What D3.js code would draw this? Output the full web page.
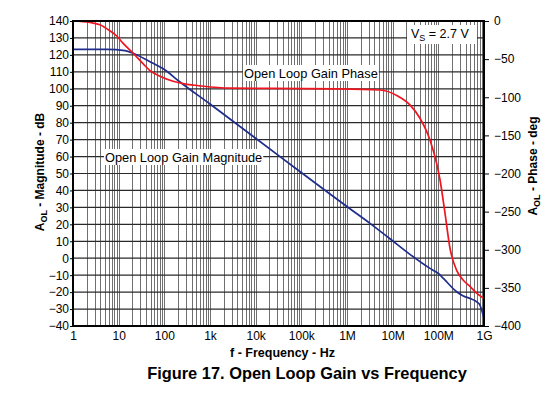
<!DOCTYPE html>
<html>
<head>
<meta charset="utf-8">
<script src="https://cdn.jsdelivr.net/npm/d3@7"></script>
<style>
  body { margin: 0; background: #fff; }
  svg { font-family: Arial, "Liberation Sans", sans-serif; }
</style>
</head>
<body>
<svg id="chart" width="550" height="396"></svg>
<script>
// Open loop gain / phase vs frequency

const freqTicks = [1, 10, 100, 1e3, 1e4, 1e5, 1e6, 1e7, 1e8, 1e9];
const freqLabels = ["1", "10", "100", "1k", "10k", "100k", "1M", "10M", "100M", "1G"];
const magTicks = [140, 130, 120, 110, 100, 90, 80, 70, 60, 50, 40, 30, 20, 10, 0, -10, -20, -30, -40];
const phaseTicks = [0, -50, -100, -150, -200, -250, -300, -350, -400];

// magnitude (dB)
const magFreq = [1, 5.5, 13.8, 20.6, 48.5, 98, 220, 1000, 34100, 424000, 1.16e6, 3.18e6,
  8.73e6, 2.39e7, 6.56e7, 1e8, 1.29e8, 2.51e8, 3.52e8, 4.9e8, 6.9e8, 8.1e8, 1e9];
const magDb = [123.3, 123.3, 122.5, 121, 116, 111.5, 104, 91, 60, 37.9, 29.2, 20.6,
  11.5, 2.3, -6, -9, -11.9, -19.8, -22.3, -23.7, -25.7, -27.5, -35.5];

// phase (deg)
const phaseFreq = [1, 2.36, 3.9, 6.46, 9.18, 12.4, 20.6, 34.1, 48.5, 80.4, 155, 313, 604, 2740,
  594000, 5.27e6, 1.26e7, 2.39e7, 3.96e7, 6.56e7, 9.2e7, 1.09e8, 1.4e8, 1.8e8,
  2.52e8, 3.52e8, 4.93e8, 6.9e8, 1e9];
const phaseDeg = [0, -2, -5, -13, -20, -29, -42, -56, -65, -72.5, -79, -83, -85, -88,
  -89, -90.5, -98, -110, -127.6, -156, -187, -208.5, -252, -298,
  -327, -340, -348, -357, -364];

const pLeft = 73, pRight = 484, pTop = 21, pBottom = 326;

const x = d3.scaleLog().domain([1, 1e9]).range([pLeft, pRight]);
const yMag = d3.scaleLinear().domain([-40, 140]).range([pBottom, pTop]);
const yPh = d3.scaleLinear().domain([-400, 0]).range([pBottom, pTop]);

const svg = d3.select("#chart");
svg.append("rect").attr("width", 550).attr("height", 396).attr("fill", "#fff");

// vertical grid: 1..9 in every decade
const vgrid = [];
for (let n = 0; n < 9; n++) for (let k = 1; k <= 9; k++) vgrid.push(k * Math.pow(10, n));
vgrid.push(1e9);

svg.append("g")
    .selectAll("line")
    .data(vgrid)
    .join("line")
    .attr("x1", d => Math.round(x(d)) + 0.5)
    .attr("x2", d => Math.round(x(d)) + 0.5)
    .attr("y1", pTop)
    .attr("y2", pBottom)
    .attr("stroke", "#707070")
    .attr("stroke-width", 1);

svg.append("g")
    .selectAll("line")
    .data(magTicks)
    .join("line")
    .attr("x1", pLeft)
    .attr("x2", pRight)
    .attr("y1", d => yMag(d))
    .attr("y2", d => yMag(d))
    .attr("stroke", "#2a2a2a")
    .attr("stroke-width", 1.2);

// text with a white box behind it
function boxedText(tx, ty, str, size, pad) {
  const g = svg.append("g");
  const t = g.append("text")
      .attr("x", tx)
      .attr("y", ty)
      .attr("font-size", size)
      .attr("fill", "#000")
      .text(str);
  const b = t.node().getBBox();
  g.insert("rect", "text")
      .attr("x", b.x - pad)
      .attr("y", b.y - 1)
      .attr("width", b.width + 2 * pad)
      .attr("height", b.height + 1)
      .attr("fill", "#fff");
  return t;
}

boxedText(105, 162, "Open Loop Gain Magnitude", 12.8, 1);
boxedText(244, 78, "Open Loop Gain Phase", 12.8, 1);

// V_S box
svg.append("rect")
    .attr("x", 407).attr("y", 25)
    .attr("width", 70).attr("height", 19)
    .attr("fill", "#fff");
const vs = svg.append("text")
    .attr("x", 411)
    .attr("y", 38)
    .attr("font-size", 12.5);
vs.append("tspan").text("V");
vs.append("tspan").attr("dy", 3).attr("font-size", 9).text("S");
vs.append("tspan").attr("dy", -3).text(" = 2.7 V");

// curves
const magLine = d3.line()
    .x((d, i) => x(magFreq[i]))
    .y(d => yMag(d))
    .curve(d3.curveMonotoneX);
const phLine = d3.line()
    .x((d, i) => x(phaseFreq[i]))
    .y(d => yPh(d))
    .curve(d3.curveMonotoneX);

svg.append("path")
    .attr("d", magLine(magDb))
    .attr("fill", "none")
    .attr("stroke", "#1f2d8c")
    .attr("stroke-width", 1.7);

svg.append("path")
    .attr("d", phLine(phaseDeg))
    .attr("fill", "none")
    .attr("stroke", "#f0151f")
    .attr("stroke-width", 1.7);

// frame
svg.append("rect")
    .attr("x", pLeft).attr("y", pTop)
    .attr("width", pRight - pLeft).attr("height", pBottom - pTop)
    .attr("fill", "none")
    .attr("stroke", "#000")
    .attr("stroke-width", 2);

// axes
const axL = svg.append("g")
    .attr("transform", `translate(${pLeft},0)`)
    .call(d3.axisLeft(yMag).tickValues(magTicks).tickSize(3).tickPadding(1));
const axR = svg.append("g")
    .attr("transform", `translate(${pRight},0)`)
    .call(d3.axisRight(yPh).tickValues(phaseTicks).tickSize(5).tickPadding(5));
const axB = svg.append("g")
    .attr("transform", `translate(0,${pBottom})`)
    .call(d3.axisBottom(x).tickValues(freqTicks).tickSize(0).tickPadding(5)
      .tickFormat((d, i) => freqLabels[i]));

[axL, axR, axB].forEach(a => {
  a.select(".domain").remove();
  a.selectAll("text").attr("font-size", 12).attr("fill", "#000")
      .attr("font-family", "Arial, 'Liberation Sans', sans-serif");
  a.selectAll("line").attr("stroke", "#000");
});

// axis titles
const yl = svg.append("text")
    .attr("transform", "translate(44,172) rotate(-90)")
    .attr("text-anchor", "middle")
    .attr("font-size", 12)
    .attr("font-weight", "bold");
yl.append("tspan").text("A");
yl.append("tspan").attr("dy", 3).attr("font-size", 9).text("OL");
yl.append("tspan").attr("dy", -3).text(" - Magnitude - dB");

const yr = svg.append("text")
    .attr("transform", "translate(537,166) rotate(-90)")
    .attr("text-anchor", "middle")
    .attr("font-size", 12)
    .attr("font-weight", "bold");
yr.append("tspan").text("A");
yr.append("tspan").attr("dy", 3).attr("font-size", 9).text("OL");
yr.append("tspan").attr("dy", -3).text(" - Phase - deg");

svg.append("text")
    .attr("x", 282.5)
    .attr("y", 357)
    .attr("text-anchor", "middle")
    .attr("font-size", 12.5)
    .attr("font-weight", "bold")
    .text("f - Frequency - Hz");

svg.append("text")
    .attr("x", 307)
    .attr("y", 379)
    .attr("text-anchor", "middle")
    .attr("font-size", 16.4)
    .attr("font-weight", "bold")
    .text("Figure 17. Open Loop Gain vs Frequency");
</script>
</body>
</html>
